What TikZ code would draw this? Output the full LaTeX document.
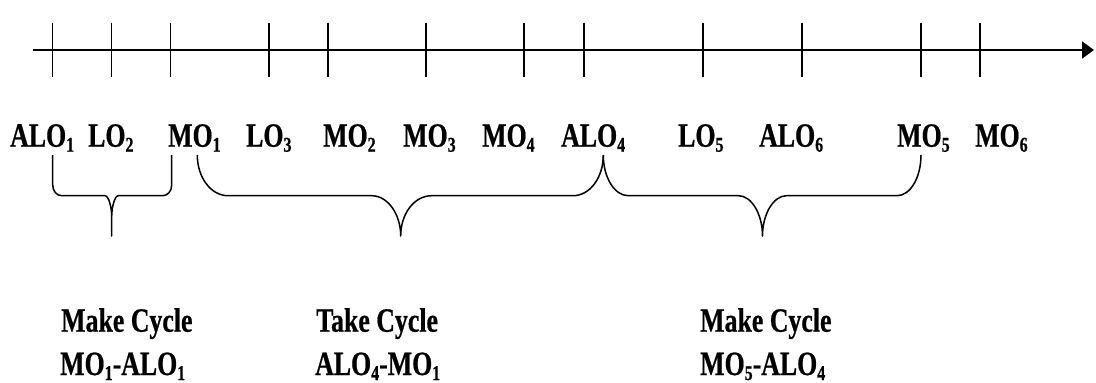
\documentclass[tikz,border=0pt]{standalone}
\usepackage{fontspec}
\usetikzlibrary{arrows.meta}
\newfontfamily\lblfont{Liberation Serif}[FakeStretch=0.76,FakeBold=0.6]
\newcommand\sbs[1]{\raisebox{-5pt}{\fontsize{21}{21}\selectfont #1}}
\tikzset{
  lbl/.style={inner sep=0pt, anchor=base west, font=\lblfont\bfseries\fontsize{34}{34}\selectfont},
  tick/.style={line width=1.3pt},
  axis/.style={line width=2pt, -{Triangle[length=12pt,width=17pt]}},
  brace/.style={line width=1.5pt, line join=round}
}
\begin{document}
\begin{tikzpicture}[x=1pt,y=-1pt]
\useasboundingbox (0,0) rectangle (1096,383);
% axis
\coordinate (a0) at (33,50);
\coordinate (a1) at (1094,50);
\draw[axis] (a0) -- (a1);
\foreach \t in {52.7,111.7,170.7,269,328,426,524,584,703,802,921,980}
  \draw[tick] (\t,22.7) -- (\t,76.7);
% labels
\node[lbl] (alo1) at (10,146.7) {ALO\sbs{1}};
\node[lbl] (lo2)  at (88,146.7) {LO\sbs{2}};
\node[lbl] (mo1)  at (168,146.7) {MO\sbs{1}};
\node[lbl] (lo3)  at (246,146.7) {LO\sbs{3}};
\node[lbl] (mo2)  at (323,146.7) {MO\sbs{2}};
\node[lbl] (mo3)  at (403,146.7) {MO\sbs{3}};
\node[lbl] (mo4)  at (482,146.7) {MO\sbs{4}};
\node[lbl] (alo4) at (561,146.7) {ALO\sbs{4}};
\node[lbl] (lo5)  at (678,146.7) {LO\sbs{5}};
\node[lbl] (alo6) at (759,146.7) {ALO\sbs{6}};
\node[lbl] (mo5)  at (897,146.7) {MO\sbs{5}};
\node[lbl] (mo6)  at (975,146.7) {MO\sbs{6}};
% braces
\draw[brace] (52.7,155) -- (52.7,185) .. controls (52.7,191) and (56.7,195.7) .. (61.7,195.7)
  -- (105,195.7) .. controls (108.7,195.7) and (111.7,207.3) .. (111.7,216.7) -- (111.7,236)
  -- (111.7,216.7) .. controls (111.7,207.3) and (114.7,195.7) .. (118.4,195.7)
  -- (162.7,195.7) .. controls (167.7,195.7) and (171.7,191) .. (171.7,185) -- (171.7,155);
\draw[brace] (197.3,155) .. controls (197.3,177.5) and (211,195.7) .. (228,195.7)
  -- (371.7,195.7) .. controls (387.7,195.7) and (400.7,214) .. (400.7,236)
  .. controls (400.7,214) and (414,195.7) .. (431.7,195.7)
  -- (573,195.7) .. controls (590,195.7) and (603.3,177.5) .. (603.3,155);
\draw[brace] (603.3,155) .. controls (603.3,177.5) and (614.5,195.7) .. (628.3,195.7)
  -- (738.5,195.7) .. controls (751.5,195.7) and (762.5,214) .. (762.5,236)
  .. controls (762.5,214) and (773.5,195.7) .. (786.5,195.7)
  -- (897,195.7) .. controls (910.3,195.7) and (921,177.5) .. (921,155);
% bottom labels
\node[lbl] (c1a) at (61,331.7) {Make Cycle};
\node[lbl] (c1b) at (60,375) {MO\sbs{1}-ALO\sbs{1}};
\node[lbl] (c2a) at (316,331.7) {Take Cycle};
\node[lbl] (c2b) at (315,375) {ALO\sbs{4}-MO\sbs{1}};
\node[lbl] (c3a) at (700,331.7) {Make Cycle};
\node[lbl] (c3b) at (700,375) {MO\sbs{5}-ALO\sbs{4}};
\end{tikzpicture}
\end{document}
